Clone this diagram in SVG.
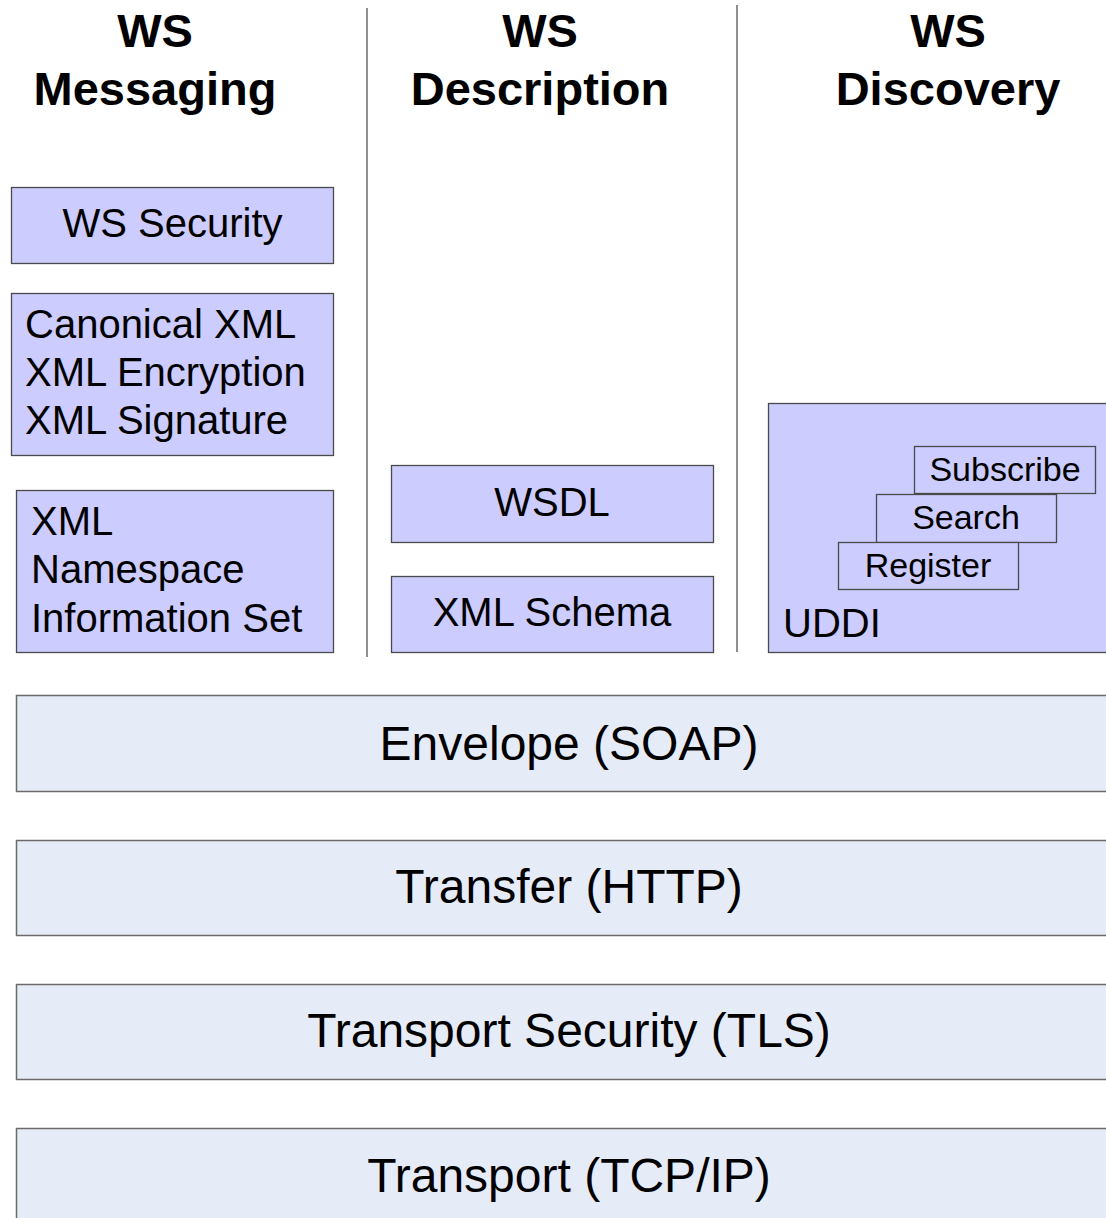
<svg xmlns="http://www.w3.org/2000/svg" width="1106" height="1218" viewBox="0 0 1106 1218">
<style>
text{font-family:"Liberation Sans",Arial,sans-serif;fill:#000}
.title{font-size:47px;font-weight:bold;text-anchor:middle}
.box{fill:#ccccff;stroke:#4a4a4a;stroke-width:1.3}
.layer{fill:#e6ecf7;stroke:#6a6a6a;stroke-width:1.5}
.sub{fill:#ccccff;stroke:#4a4a4a;stroke-width:1.3}
.t40{font-size:40px}
.t48{font-size:48px;text-anchor:middle}
.t34{font-size:34px;text-anchor:middle}
.mid{text-anchor:middle}
.sep{stroke:#6a6a6a;stroke-width:1.5}
</style>
<rect width="1106" height="1218" fill="#ffffff"/>
<g id="separators">
<line class="sep" x1="367" y1="8" x2="367" y2="657"/>
<line class="sep" x1="737" y1="5" x2="737" y2="652"/>
</g>
<g id="title-messaging"><text class="title" x="155" y="47">WS</text><text class="title" x="155" y="105">Messaging</text></g>
<g id="title-description"><text class="title" x="540" y="47">WS</text><text class="title" x="540" y="105">Description</text></g>
<g id="title-discovery"><text class="title" x="948" y="47">WS</text><text class="title" x="948" y="105">Discovery</text></g>
<g id="ws-security"><rect class="box" x="11.5" y="187.5" width="322" height="76"/><text class="t40 mid" x="172.5" y="237">WS Security</text></g>
<g id="xml-security"><rect class="box" x="11.5" y="293.5" width="322" height="162"/><text class="t40" x="25" y="338">Canonical XML</text><text class="t40" x="25" y="386">XML Encryption</text><text class="t40" x="25" y="434">XML Signature</text></g>
<g id="xml-base"><rect class="box" x="16.5" y="490.5" width="317" height="162"/><text class="t40" x="31" y="535">XML</text><text class="t40" x="31" y="583">Namespace</text><text class="t40" x="31" y="632">Information Set</text></g>
<g id="wsdl"><rect class="box" x="391.5" y="465.5" width="322" height="77"/><text class="t40 mid" x="552" y="516">WSDL</text></g>
<g id="xml-schema"><rect class="box" x="391.5" y="576.5" width="322" height="76"/><text class="t40 mid" x="552" y="626">XML Schema</text></g>
<g id="uddi"><rect class="box" x="768.5" y="403.5" width="345" height="249"/><text class="t40" x="783" y="637">UDDI</text></g>
<g id="subscribe"><rect class="sub" x="914.5" y="446.5" width="181" height="47"/><text class="t34" x="1005" y="481">Subscribe</text></g>
<g id="search"><rect class="sub" x="876.5" y="494.5" width="180" height="48"/><text class="t34" x="966" y="529">Search</text></g>
<g id="register"><rect class="sub" x="838.5" y="542.5" width="180" height="47"/><text class="t34" x="928" y="577">Register</text></g>
<g id="envelope"><rect class="layer" x="16.5" y="695.5" width="1100" height="96"/><text class="t48" x="569" y="760">Envelope (SOAP)</text></g>
<g id="transfer"><rect class="layer" x="16.5" y="840.5" width="1100" height="95"/><text class="t48" x="569" y="903">Transfer (HTTP)</text></g>
<g id="transport-security"><rect class="layer" x="16.5" y="984.5" width="1100" height="95"/><text class="t48" x="569" y="1047">Transport Security (TLS)</text></g>
<g id="transport"><rect class="layer" x="16.5" y="1128.5" width="1100" height="100"/><text class="t48" x="569" y="1192">Transport (TCP/IP)</text></g>
<g id="connectors"></g>
</svg>
